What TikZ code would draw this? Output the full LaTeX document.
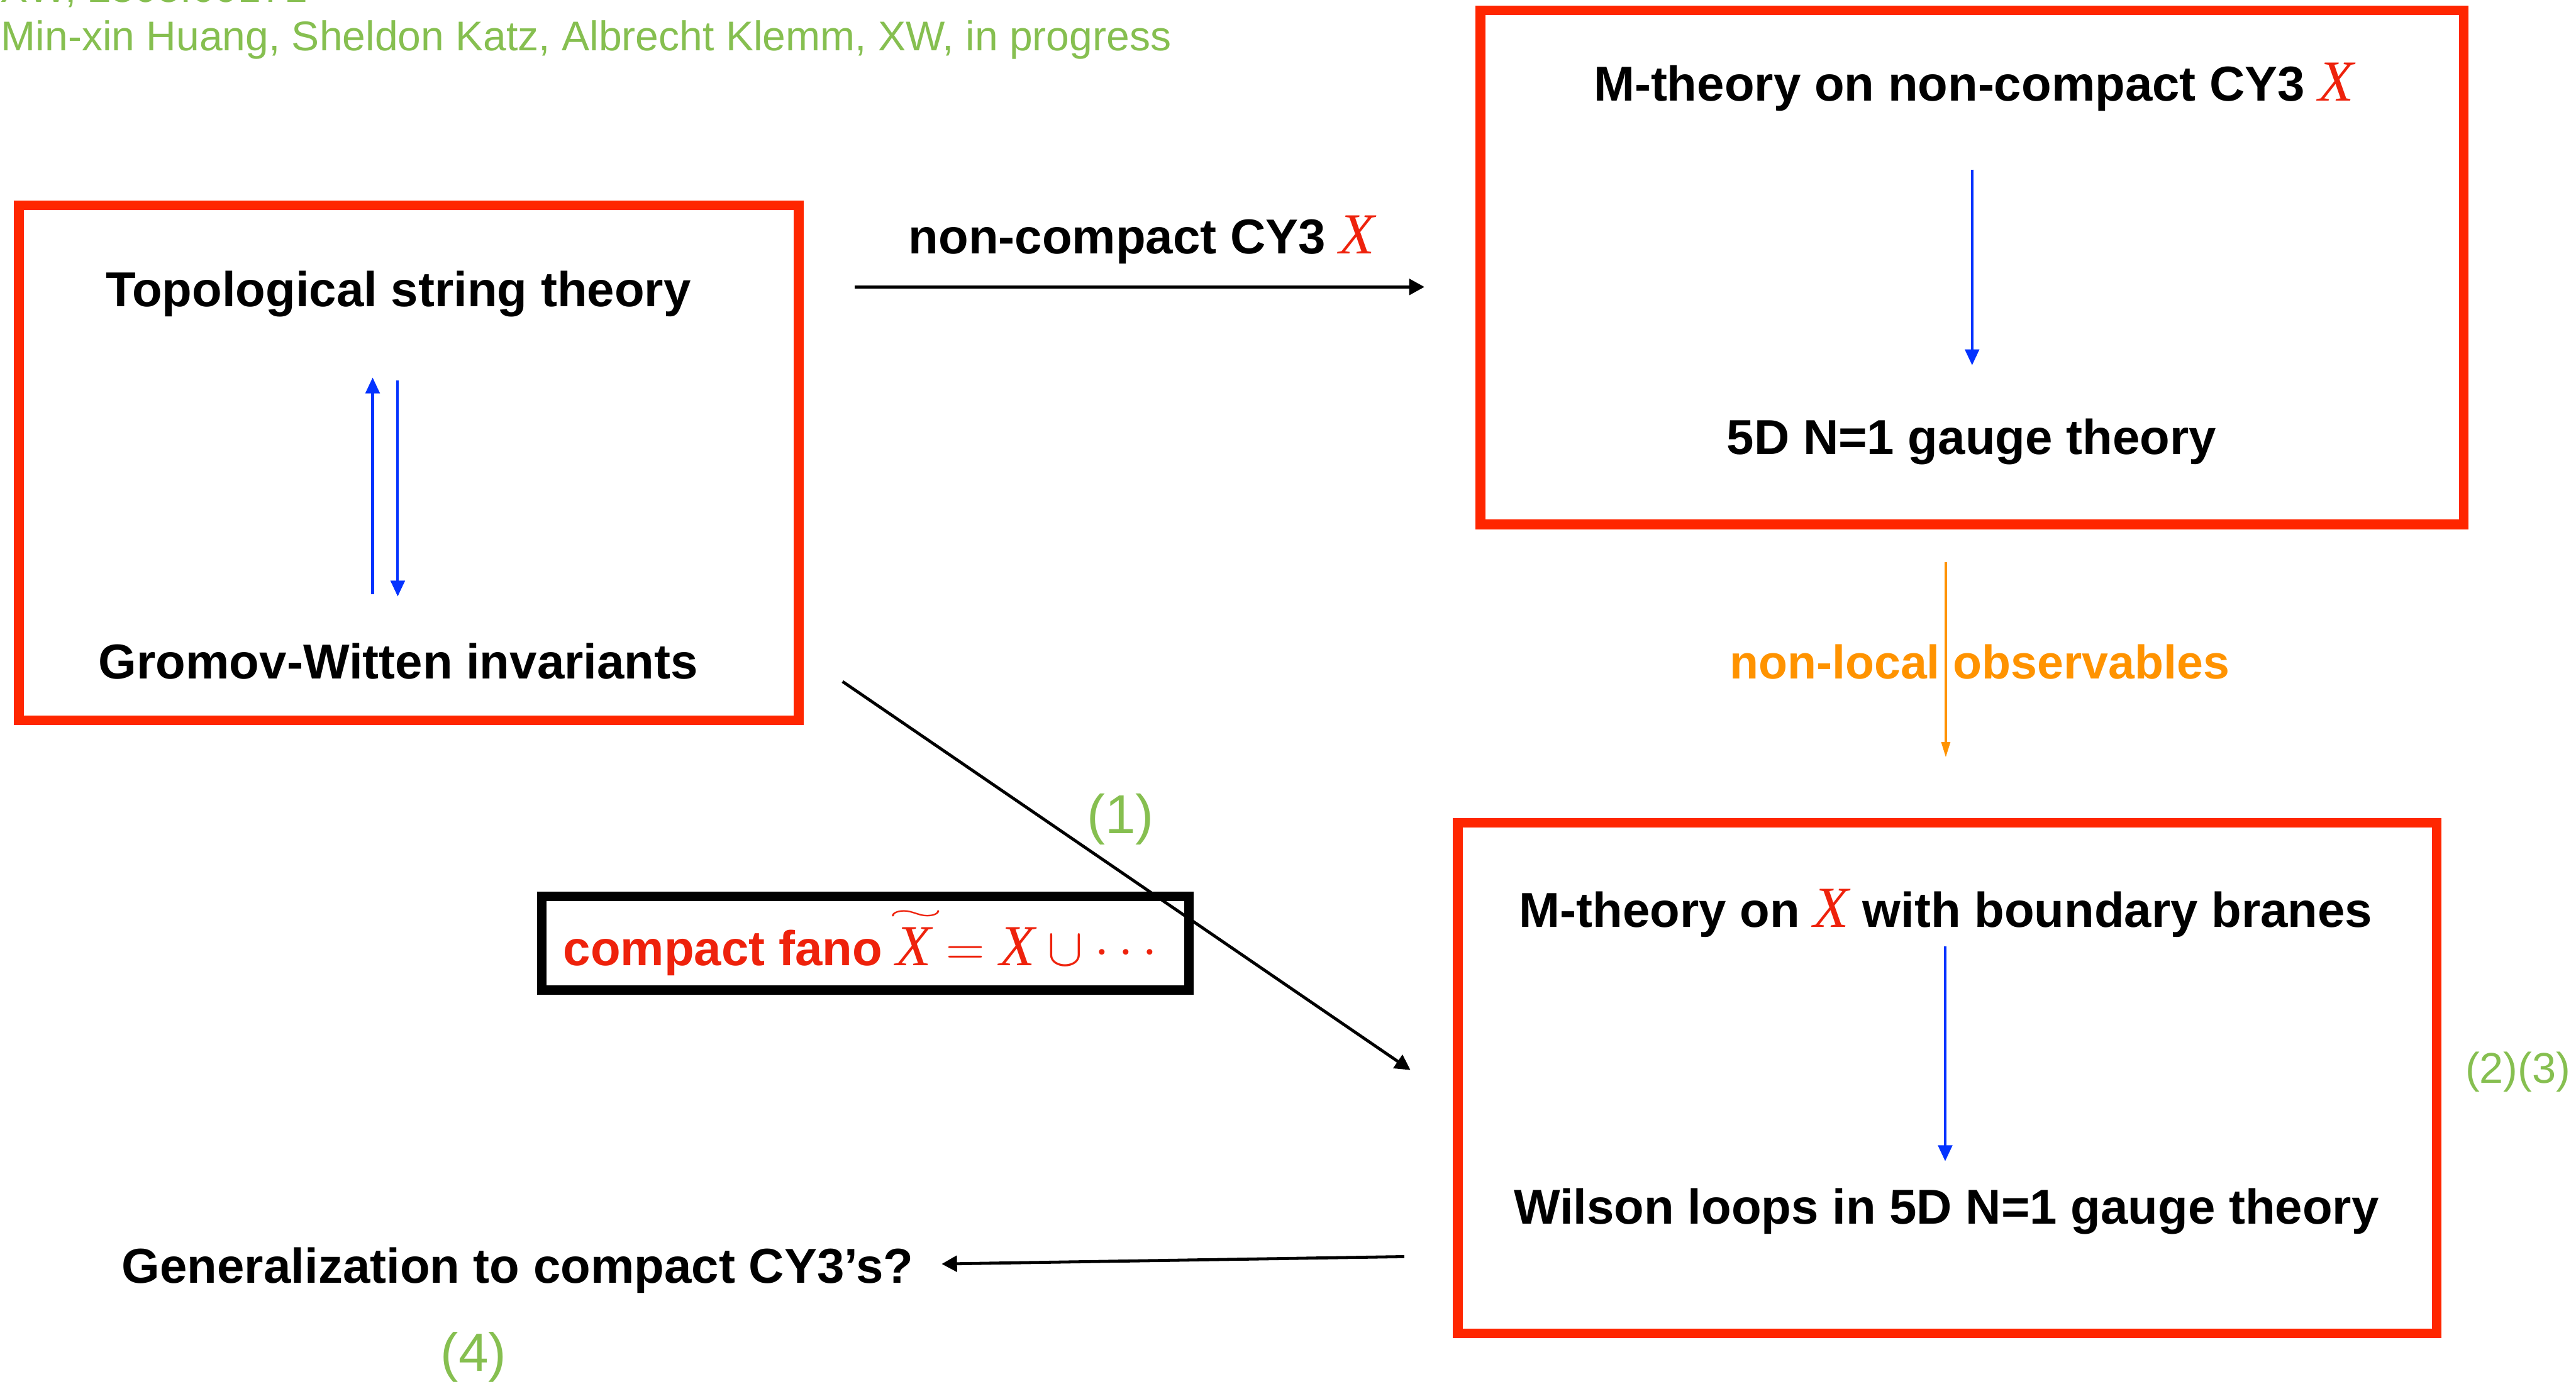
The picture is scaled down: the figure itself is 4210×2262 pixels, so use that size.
\documentclass[tikz,border=0pt]{standalone}
\usepackage{fontspec}
\setmainfont{Liberation Sans}
\newfontfamily\tms{Liberation Serif}
\usetikzlibrary{arrows.meta}
\definecolor{boxred}{RGB}{255,38,0}
\definecolor{txtred}{RGB}{238,34,12}
\definecolor{arrblue}{RGB}{4,51,255}
\definecolor{arrorange}{RGB}{255,147,0}
\definecolor{grn}{RGB}{134,191,80}
\newcommand{\plainX}{\mbox{\fontsize{27}{30}\selectfont\tms\mdseries\itshape X}}
\newcommand{\bigX}{\textcolor{txtred}{\plainX}}
\newcommand{\tildeX}{\mbox{\ooalign{\plainX\cr\hidewidth\kern0.06cm\raisebox{0.74cm}{\resizebox{0.9cm}{0.16cm}{$\sim$}}\hidewidth\cr}}}
\begin{document}
\begin{tikzpicture}[x=0.01cm,y=-0.01cm,
  redbox/.style={draw=boxred, line width=4.5pt, inner sep=0pt},
  blackbox/.style={draw=black, line width=4.5pt, fill=white, inner sep=0pt},
  lbl/.style={font=\fontsize{22.8}{27}\selectfont\bfseries, anchor=base, inner sep=0pt},
  note/.style={font=\fontsize{19.3}{23}\selectfont, text=grn, anchor=base west, inner sep=0pt},
  num/.style={text=grn, inner sep=0pt},
  blackarrow/.style={draw=black, line width=1.4pt, -{Triangle[length=0.25cm,width=0.26cm]}},
  bluearrow/.style={draw=arrblue, line width=1.2pt, -{Triangle[length=0.26cm,width=0.23cm]}},
  orangearrow/.style={draw=arrorange, line width=1.1pt, -{Triangle[length=0.25cm,width=0.14cm]}}
]
\useasboundingbox[fill=white] (0,0) rectangle (4210,2262);

% header notes
\node[note] (ref) at (0,4) {XW, 2305.09171};
\node[note] (authors) at (1,83) {Min-xin Huang, Sheldon Katz, Albrecht Klemm, XW, in progress};

% boxes
\node[redbox, minimum width=12.74cm, minimum height=8.41cm] (topo) at (668,756.5) {};
\node[redbox, minimum width=16.06cm, minimum height=8.40cm] (mnc) at (3223,437) {};
\node[redbox, minimum width=15.99cm, minimum height=8.34cm] (mbb) at (3182.5,1762) {};
\node[blackbox, minimum width=10.57cm, minimum height=1.53cm] (fanobox) at (1414.5,1541.5) {};

% texts
\node[lbl] (tst) at (651,501) {Topological string theory};
\node[lbl] (gw) at (651,1110) {Gromov-Witten invariants};
\node[lbl] (nccy) at (1866,415) {non-compact CY3 \bigX};
\node[lbl] (mth1) at (3226,165) {M-theory on non-compact CY3 \bigX};
\node[lbl] (gauge) at (3222,743) {5D N=1 gauge theory};
\node[lbl, anchor=base west, font=\fontsize{22}{26}\selectfont\bfseries, text=arrorange] (nlo) at (2826,1109) {non-local observables};
\node[lbl] (mth2) at (3180,1515) {M-theory on \bigX\ with boundary branes};
\node[lbl] (wl) at (3181,2001) {Wilson loops in 5D N=1 gauge theory};
\node[lbl] (gen) at (846,2097) {Generalization to compact CY3’s?};
\node[lbl, text=txtred] (fano) at (1406,1578) {compact fano {\fontsize{27}{30}\selectfont $\tildeX=\plainX\cup\cdots$}};

\node[num, font=\fontsize{25.5}{30}\selectfont] (n1) at (1831,1339) {(1)};
\node[num, font=\fontsize{20}{24}\selectfont] (n23) at (4115,1752) {(2)(3)};
\node[num, font=\fontsize{25}{30}\selectfont] (n4) at (774,2218) {(4)};

% arrow end points
\coordinate (a1s) at (1397,469);   \coordinate (a1e) at (2328,469);
\coordinate (a2s) at (1377,1114);  \coordinate (a2e) at (2305,1749);
\coordinate (a3s) at (2295,2054);  \coordinate (a3e) at (1539,2066);
\coordinate (a4s) at (3180,919);   \coordinate (a4e) at (3180,1238);
\coordinate (b1s) at (609,971);    \coordinate (b1e) at (609,617);
\coordinate (b2s) at (650,622);    \coordinate (b2e) at (650,975);
\coordinate (b3s) at (3223,277);   \coordinate (b3e) at (3223,597);
\coordinate (b4s) at (3179,1547);  \coordinate (b4e) at (3179,1898);

% connectors
\draw[blackarrow] (a1s) -- (a1e);
\draw[blackarrow] (a2s) -- (a2e);
\draw[blackarrow] (a3s) -- (a3e);
\draw[orangearrow] (a4s) -- (a4e);
\draw[bluearrow] (b1s) -- (b1e);
\draw[bluearrow] (b2s) -- (b2e);
\draw[bluearrow] (b3s) -- (b3e);
\draw[bluearrow] (b4s) -- (b4e);
\end{tikzpicture}
\end{document}
